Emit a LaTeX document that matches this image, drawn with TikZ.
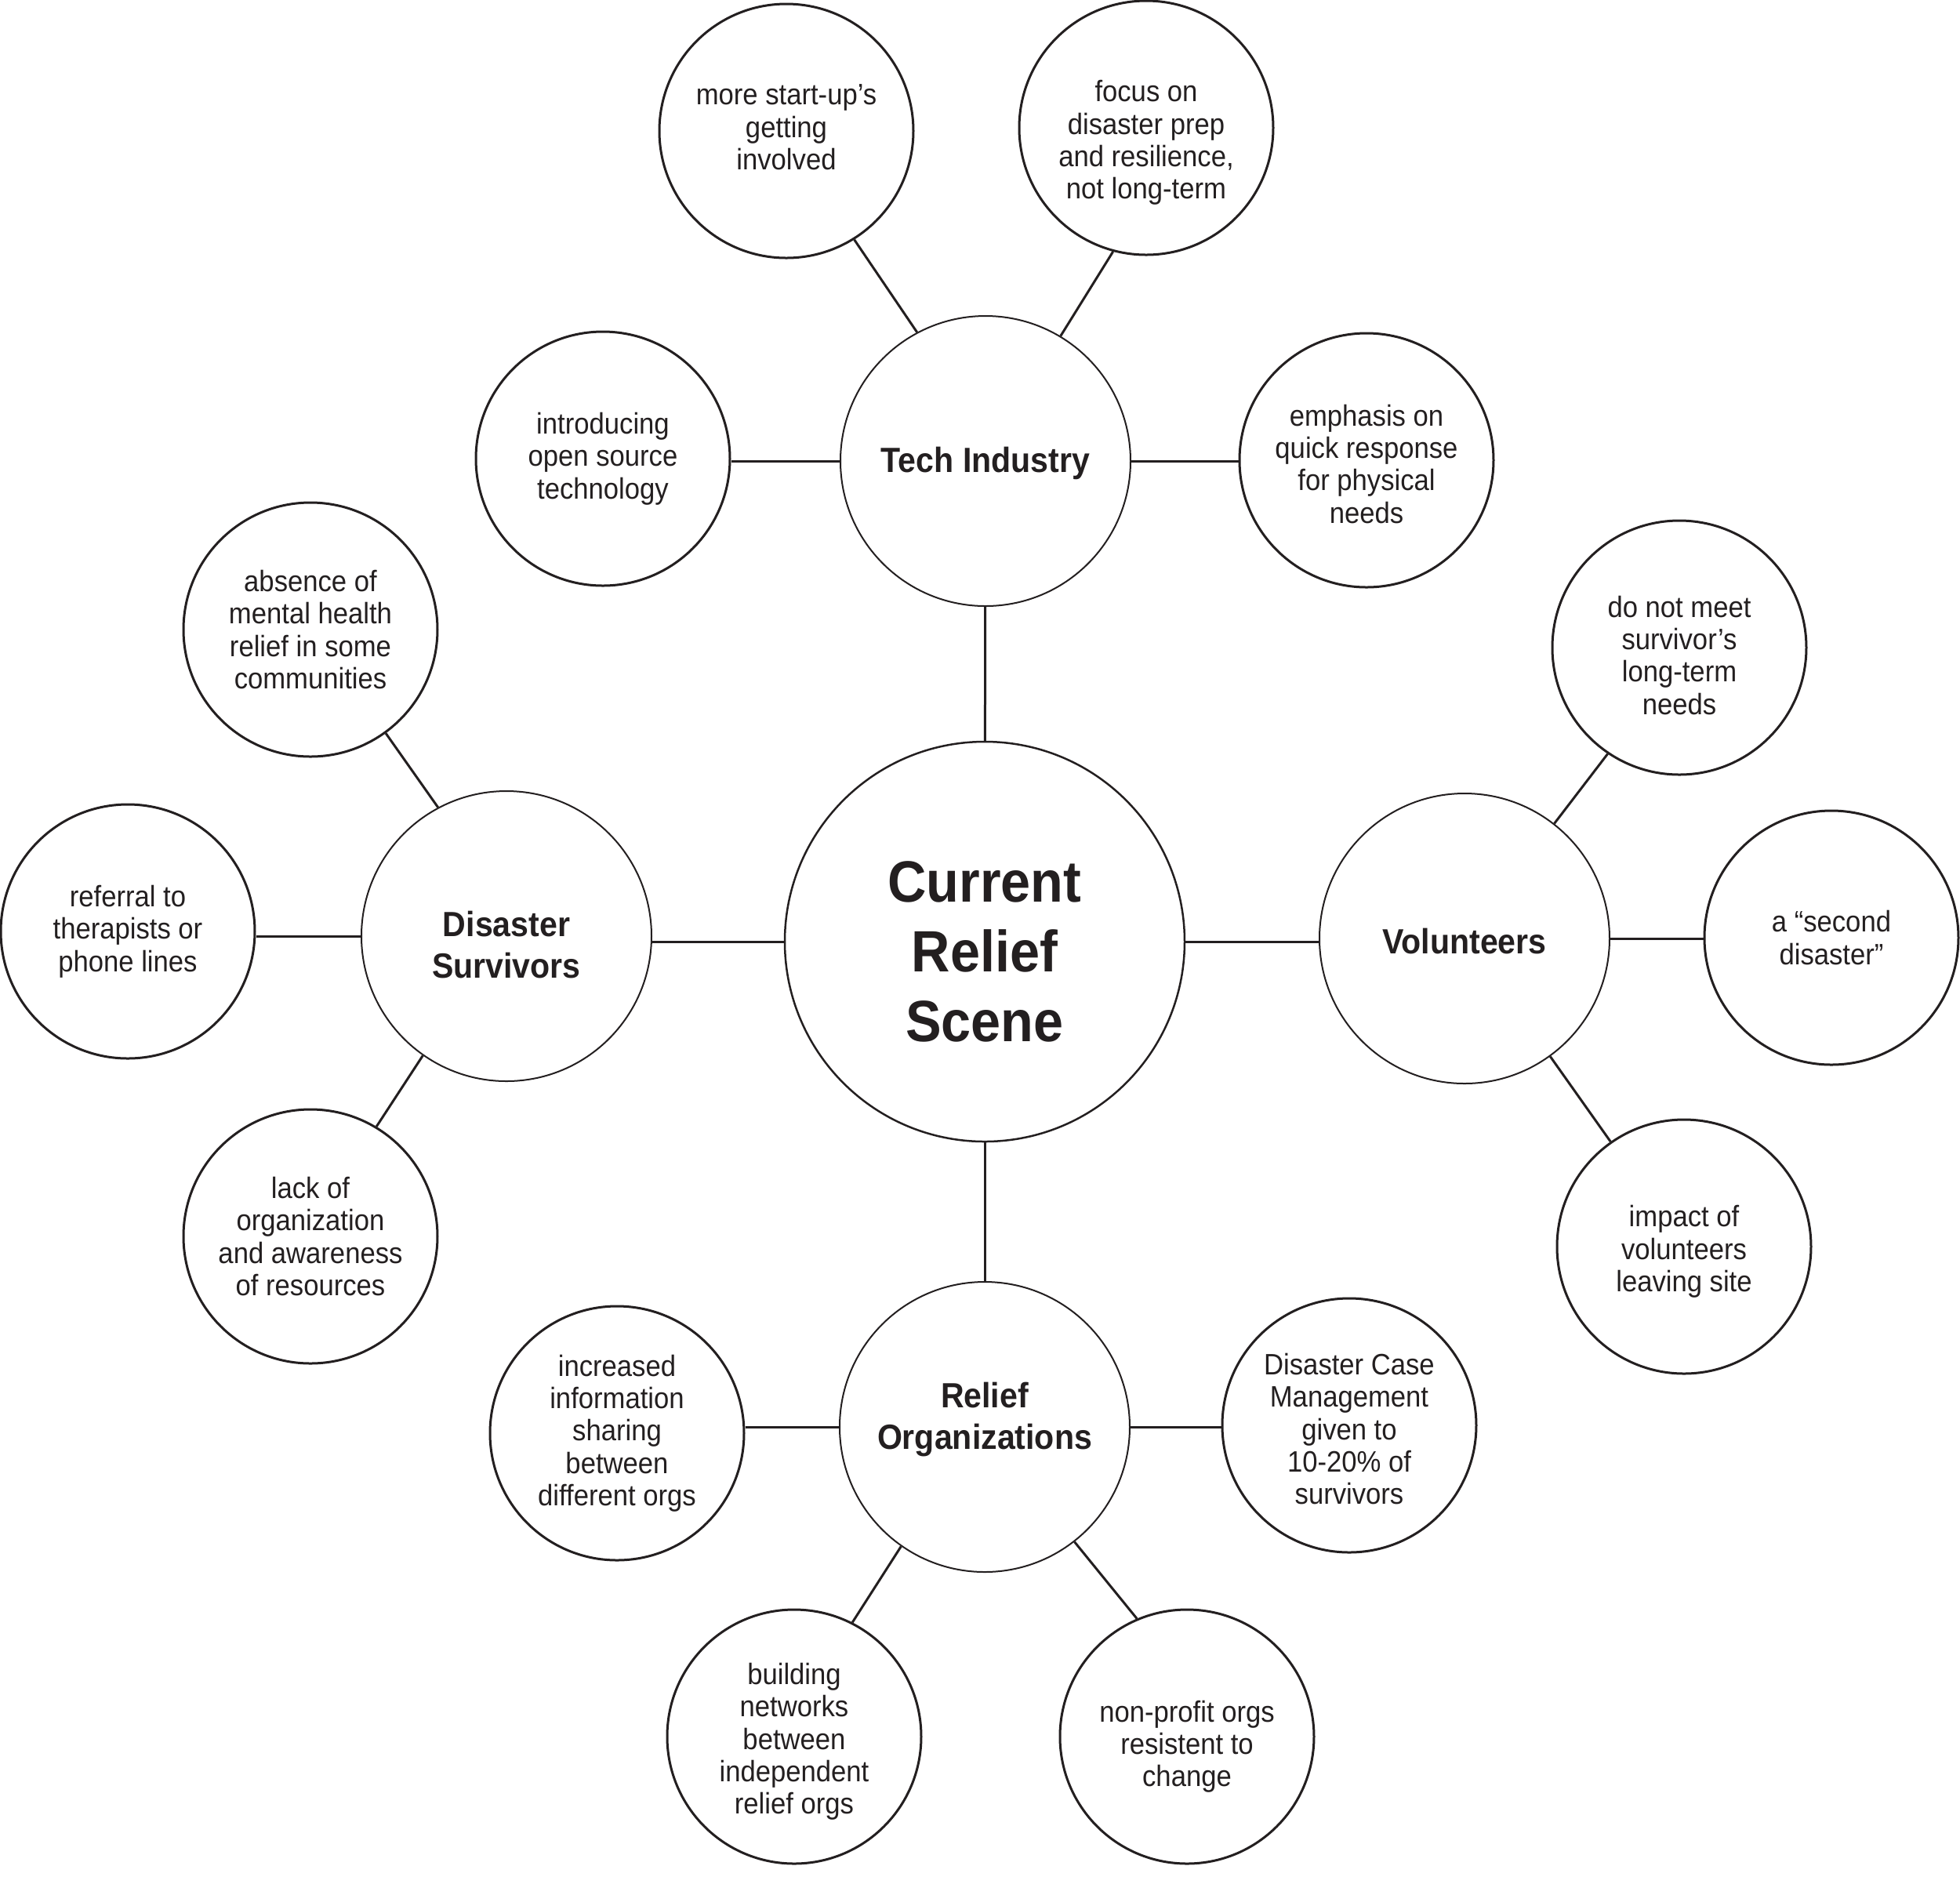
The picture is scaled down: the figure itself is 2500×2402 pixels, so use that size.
\documentclass[tikz,border=0pt]{standalone}
\usepackage{fontspec}
\setmainfont{Liberation Sans}[FakeStretch=0.92]
\definecolor{ink}{RGB}{35,31,32}
\begin{document}
\begin{tikzpicture}[x=0.3pt,y=-0.3pt,
  leaf/.style={circle,draw=ink,line width=0.9pt,minimum size=97.2pt,inner sep=0pt},
  mid/.style={circle,draw=ink,line width=0.6pt,minimum size=111pt,inner sep=0pt},
  hub/.style={circle,draw=ink,line width=0.75pt,minimum size=153pt,inner sep=0pt},
  leaftext/.style={inner sep=0pt,align=center,text=ink,font=\fontsize{11.3}{12.4}\selectfont},
  midtext/.style={inner sep=0pt,align=center,text=ink,font=\fontsize{13.4}{15.8}\selectfont\bfseries},
  hubtext/.style={inner sep=0pt,align=center,text=ink,font=\fontsize{22.3}{26.7}\selectfont\bfseries},
  conn/.style={draw=ink,line width=0.9pt}]
\useasboundingbox (0,0) rectangle (2500,2402);

% circles
\node[hub] (C) at (1256,1201) {};
\node[mid] (T) at (1257,588) {};
\node[mid] (S) at (646,1194) {};
\node[mid] (V) at (1868,1197) {};
\node[mid] (R) at (1256,1820) {};

\node[leaf] (startup) at (1003,167) {};
\node[leaf] (focus) at (1462,163) {};
\node[leaf] (opensrc) at (769,585) {};
\node[leaf] (emph) at (1743,587) {};
\node[leaf] (absence) at (396,803) {};
\node[leaf] (referral) at (163,1188) {};
\node[leaf] (lack) at (396,1577) {};
\node[leaf] (donot) at (2142,826) {};
\node[leaf] (second) at (2336,1196) {};
\node[leaf] (impact) at (2148,1590) {};
\node[leaf] (incr) at (787,1828) {};
\node[leaf] (dcm) at (1721,1818) {};
\node[leaf] (build) at (1013,2215) {};
\node[leaf] (nonprofit) at (1514,2215) {};

% texts
\node[hubtext,yshift=-3.8pt] (Ct) at (C) {Current\\Relief\\Scene};
\node[midtext,yshift=-1pt] (Tt) at (T) {Tech Industry};
\node[midtext,yshift=-3.3pt] (St) at (S) {Disaster\\Survivors};
\node[midtext,yshift=-1pt] (Vt) at (V) {Volunteers};
\node[midtext,yshift=2.9pt] (Rt) at (R) {Relief\\Organizations};

\node[leaftext,yshift=1.4pt] (startup-t) at (startup) {more start-up’s\\getting\\involved};
\node[leaftext,yshift=-5.7pt] (focus-t) at (focus) {focus on\\disaster prep\\and resilience,\\not long-term};
\node[leaftext] (opensrc-t) at (opensrc) {introducing\\open source\\technology};
\node[leaftext,yshift=-1.4pt] (emph-t) at (emph) {emphasis on\\quick response\\for physical\\needs};

\node[leaftext] (absence-t) at (absence) {absence of\\mental health\\relief in some\\communities};
\node[leaftext] (referral-t) at (referral) {referral to\\therapists or\\phone lines};
\node[leaftext] (lack-t) at (lack) {lack of\\organization\\and awareness\\of resources};

\node[leaftext,yshift=-2.9pt] (donot-t) at (donot) {do not meet\\survivor’s\\long-term\\needs};
\node[leaftext] (second-t) at (second) {a “second\\disaster”};
\node[leaftext,yshift=-1.9pt] (impact-t) at (impact) {impact of\\volunteers\\leaving site};

\node[leaftext] (incr-t) at (incr) {increased\\information\\sharing\\between\\different orgs};
\node[leaftext,yshift=-1.4pt] (dcm-t) at (dcm) {Disaster Case\\Management\\given to\\10-20\% of\\survivors};
\node[leaftext,yshift=-1.9pt] (build-t) at (build) {building\\networks\\between\\independent\\relief orgs};
\node[leaftext,yshift=-3.8pt] (nonprofit-t) at (nonprofit) {non-profit orgs\\resistent to\\change};

% connectors
\draw[conn] (C) -- (T);
\draw[conn] (C) -- (R);
\draw[conn] (C.west) -- (C.west -| S.east);
\draw[conn] (C.east) -- (C.east -| V.west);

\draw[conn] (T.118.4) -- (startup.302.1);
\draw[conn] (T.59.1) -- (focus.255.9);
\draw[conn] (T.west) -- (T.west -| opensrc.east);
\draw[conn] (T.east) -- (T.east -| emph.west);

\draw[conn] (S.118) -- (absence.306.4);
\draw[conn] (S.west) -- (S.west -| referral.east);
\draw[conn] (S.235.1) -- (lack.59.9);

\draw[conn] (V.52.8) -- (donot.236.9);
\draw[conn] (V.east) -- (V.east -| second.west);
\draw[conn] (V.306.4) -- (impact.125.1);

\draw[conn] (R.west) -- (R.west -| incr.east);
\draw[conn] (R.east) -- (R.east -| dcm.west);
\draw[conn] (R.235.7) -- (build.63.3);
\draw[conn] (R.308.6) -- (nonprofit.113);
\end{tikzpicture}
\end{document}
